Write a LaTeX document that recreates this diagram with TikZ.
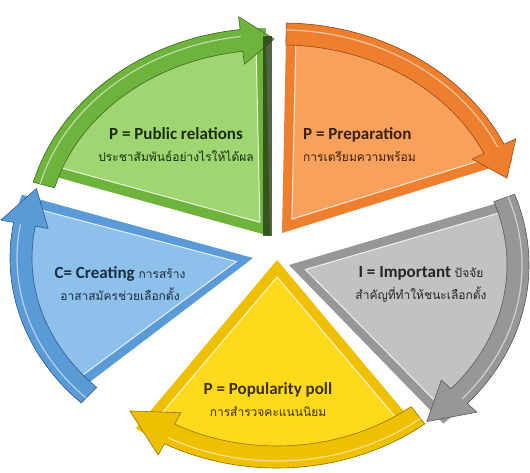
\documentclass[tikz,border=0pt]{standalone}
\usepackage{fontspec}
\setmainfont{Carlito}
\newfontfamily\thaifont[Script=Thai]{Loma}
\usetikzlibrary{positioning, calc}

\definecolor{grnB}{HTML}{6DB33C}
\definecolor{grnF}{HTML}{9FD672}
\definecolor{orgB}{HTML}{EE7F2E}
\definecolor{orgF}{HTML}{F8A15C}
\definecolor{gryB}{HTML}{979797}
\definecolor{gryF}{HTML}{C2C2C2}
\definecolor{ylwB}{HTML}{EEC000}
\definecolor{ylwF}{HTML}{FFD91C}
\definecolor{bluB}{HTML}{5A9AD6}
\definecolor{bluF}{HTML}{8EC0EC}

\newcommand{\thaitxt}[1]{{\thaifont\mdseries\fontsize{12}{14}\selectfont #1}}

\tikzset{
    armband/.style={fill=#1, draw=#1!60!black, line width=0.6pt, line join=round},
    lbl/.style={align=center, inner sep=1pt, font=\fontsize{17}{22}\selectfont\bfseries}
}

\begin{document}
\begin{tikzpicture}[x=1pt, y=1pt]
        \useasboundingbox (0,0) rectangle (530,473);
        \foreach \nm/\ax/\ay/\rx/\ry/\wa/\wb/\tail/\neck/\tip/\bc/\fc in {
            pub/270/237/245/208/91/162/165/97/89/grnB/grnF,
            prep/282/240/245/210/20/89/89/25/16/orgB/orgF,
            imp/289/208/240/207/-50/19/20/-42/-53/gryB/gryF,
            poll/277/213/240/208/-126/-54/-52/-118/-130/ylwB/ylwF,
            cre/253/215/243/205/162/222/225/170/159/bluB/bluF}
        {
            \begin{scope}[shift={(\ax,\ay)}]
                \coordinate (o\nm) at (0,0);
                \coordinate (p\nm) at (\wa:{\rx} and {\ry});
                \coordinate (q\nm) at (\wb:{\rx} and {\ry});
                \coordinate (i\nm) at ({(\wa+\wb)/2}:17pt);
                \coordinate (pp\nm) at ($(p\nm)!10pt!-90:(o\nm)$);
                \coordinate (qq\nm) at ($(q\nm)!10pt!90:(o\nm)$);
                % wedge with bevel frame
                \fill[\bc] (o\nm) -- (p\nm) arc[start angle=\wa, end angle=\wb, x radius=\rx, y radius=\ry] -- cycle;
                \begin{scope}
                    \clip (o\nm) -- (p\nm) arc[start angle=\wa, end angle=\wb, x radius=\rx, y radius=\ry] -- cycle;
                    \fill[\fc] (i\nm) -- (pp\nm) -- (p\nm) arc[start angle=\wa, end angle=\wb, x radius=\rx, y radius=\ry] -- (qq\nm) -- cycle;
                    \draw[white, opacity=0.8, line width=1pt] (pp\nm) -- (i\nm) -- (qq\nm);
                \end{scope}
                % curved arrow along the rim
                \path[armband=\bc] (\tail:{\rx} and {\ry})
                    arc[start angle=\tail, end angle=\neck, x radius=\rx, y radius=\ry]
                    -- (\neck:{\rx+13} and {\ry+13})
                    -- (\tip:{\rx-11} and {\ry-11})
                    -- (\neck:{\rx-35} and {\ry-35})
                    -- (\neck:{\rx-22} and {\ry-22})
                    arc[start angle=\neck, end angle=\tail, x radius=\rx-22, y radius=\ry-22]
                    -- cycle;
                \draw[white, opacity=0.55, line width=1.2pt] (\tail:{\rx-7} and {\ry-7})
                    arc[start angle=\tail, end angle=\neck, x radius=\rx-7, y radius=\ry-7];
            \end{scope}
        }
        % dark edge of the green piece
        \fill[grnB!35!black, opacity=0.8] ($(opub)+(-7,0)$) rectangle ($(opub)+(2,200)$);

        \node[lbl, text=grnB!25!black] (tPub) at (176,328) {P = Public relations\\ \thaitxt{ประชาสัมพันธ์อย่างไรให้ได้ผล}};
        \node[lbl, text=orgB!25!black, align=left, anchor=west] (tPrep) at (302,328) {P = Preparation\\ \thaitxt{การเตรียมความพร้อม}};
        \node[lbl, text=bluB!30!black] (tCre) at (120,189) {C= Creating \thaitxt{การสร้าง}\\ \thaitxt{อาสาสมัครช่วยเลือกตั้ง}};
        \node[lbl, text=gryB!25!black] (tImp) at (421,189) {I = Important \thaitxt{ปัจจัย}\\ \thaitxt{สำคัญที่ทำให้ชนะเลือกตั้ง}};
        \node[lbl, text=ylwB!25!black] (tPoll) at (268,73) {P = Popularity poll\\ \thaitxt{การสำรวจคะแนนนิยม}};
\end{tikzpicture}
\end{document}
